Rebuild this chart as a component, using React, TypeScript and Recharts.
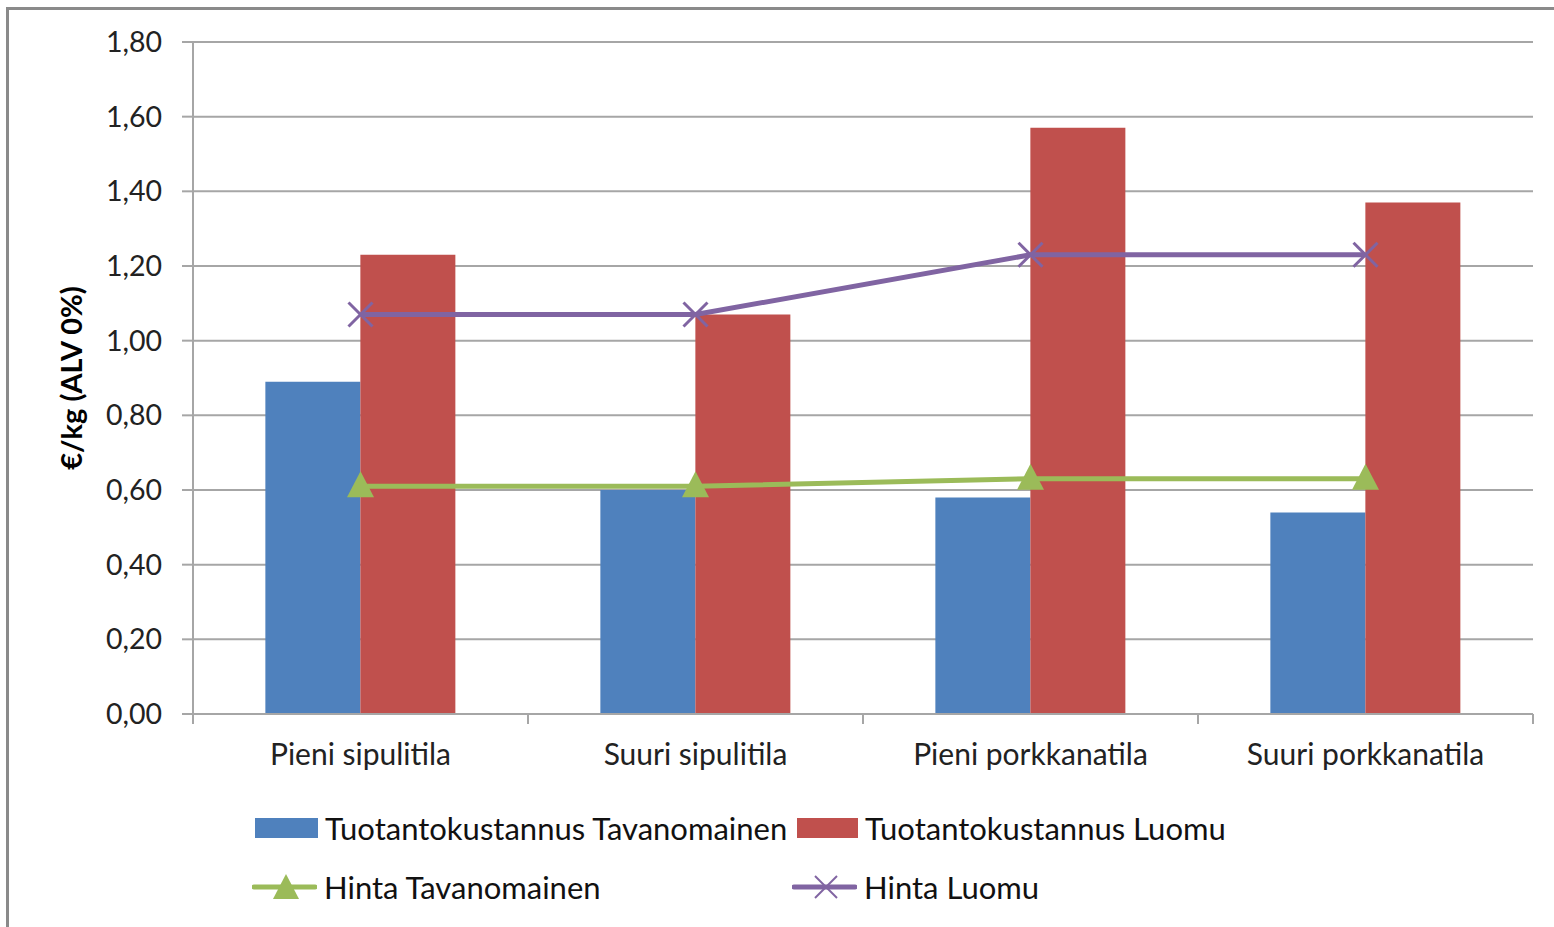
import React from 'react';
import {
  ComposedChart,
  Bar,
  Line,
  XAxis,
  YAxis,
  CartesianGrid,
  Legend,
} from 'recharts';

const categories = ['Pieni sipulitila', 'Suuri sipulitila', 'Pieni porkkanatila', 'Suuri porkkanatila'];
const kustannusTavanomainen = [0.89, 0.6, 0.58, 0.54];
const kustannusLuomu = [1.23, 1.07, 1.57, 1.37];
const hintaTavanomainen = [0.61, 0.61, 0.63, 0.63];
const hintaLuomu = [1.07, 1.07, 1.23, 1.23];
const yTicks = [0, 0.2, 0.4, 0.6, 0.8, 1.0, 1.2, 1.4, 1.6, 1.8];

const FONT = 'Lato, "Open Sans", sans-serif';
const BLUE = '#4F81BD';
const RED = '#C0504D';
const GREEN = '#9BBB59';
const PURPLE = '#8064A2';
const GRID = '#A6A6A6';

const data = categories.map((name, i) => ({
  name,
  kt: kustannusTavanomainen[i],
  kl: kustannusLuomu[i],
  ht: hintaTavanomainen[i],
  hl: hintaLuomu[i],
}));

const fmt = (v: number) => v.toFixed(2).replace('.', ',');

function TriangleDot(props: any) {
  const { cx, cy } = props;
  if (cx == null || cy == null) return null;
  return (
    <polygon
      points={`${cx},${cy - 15} ${cx - 13.5},${cy + 11} ${cx + 13.5},${cy + 11}`}
      fill={GREEN}
    />
  );
}

function CrossDot(props: any) {
  const { cx, cy } = props;
  if (cx == null || cy == null) return null;
  const r = 12;
  return (
    <g stroke={PURPLE} strokeWidth={3}>
      <line x1={cx - r} y1={cy - r} x2={cx + r} y2={cy + r} />
      <line x1={cx - r} y1={cy + r} x2={cx + r} y2={cy - r} />
    </g>
  );
}

function CategoryTick(props: any) {
  const { x, y, payload, index, visibleTicksCount } = props;
  const half = payload?.offset ?? 167.5;
  const top = y - 8;
  return (
    <g>
      <line x1={x - half} y1={top} x2={x - half} y2={top + 10} stroke={GRID} strokeWidth={2} />
      {index === visibleTicksCount - 1 && (
        <line x1={x + half} y1={top} x2={x + half} y2={top + 10} stroke={GRID} strokeWidth={2} />
      )}
      <text
        x={x}
        y={top + 51}
        textAnchor="middle"
        fill="#222"
        fontSize={30}
        fontFamily={FONT}
      >
        {payload.value}
      </text>
    </g>
  );
}

function ChartLegend() {
  const text = { fontSize: 31, color: '#111', fontFamily: FONT, marginLeft: 7, whiteSpace: 'nowrap' } as const;
  const item = { display: 'flex', alignItems: 'center', width: 542, height: 40 } as const;
  return (
    <div style={{ display: 'flex', flexWrap: 'wrap', width: 1090 }}>
      <div style={item}>
        <div style={{ width: 63, height: 20, background: BLUE, flexShrink: 0 }} />
        <span style={text}>Tuotantokustannus Tavanomainen</span>
      </div>
      <div style={item}>
        <div style={{ width: 61, height: 20, background: RED, flexShrink: 0 }} />
        <span style={text}>Tuotantokustannus Luomu</span>
      </div>
      <div style={{ ...item, marginTop: 19 }}>
        <svg width={65} height={30} style={{ flexShrink: 0, marginLeft: -3 }}>
          <line x1={2} y1={15} x2={63} y2={15} stroke={GREEN} strokeWidth={5} strokeLinecap="round" />
          <polygon points="34,2 21,27 47,27" fill={GREEN} />
        </svg>
        <span style={text}>Hinta Tavanomainen</span>
      </div>
      <div style={{ ...item, marginTop: 19 }}>
        <svg width={65} height={30} style={{ flexShrink: 0, marginLeft: -5 }}>
          <line x1={2} y1={15} x2={63} y2={15} stroke={PURPLE} strokeWidth={5} strokeLinecap="round" />
          <g stroke={PURPLE} strokeWidth={2}>
            <line x1={23} y1={4} x2={45} y2={26} />
            <line x1={23} y1={26} x2={45} y2={4} />
          </g>
        </svg>
        <span style={text}>Hinta Luomu</span>
      </div>
    </div>
  );
}

export default function App() {
  return (
    <div
      style={{
        position: 'absolute',
        left: 0,
        top: 0,
        width: 1554,
        height: 927,
        background: '#fff',
        overflow: 'hidden',
      }}
    >
      <div
        style={{
          position: 'absolute',
          left: 6,
          top: 7,
          width: 1600,
          height: 1000,
          borderLeft: '3px solid #8a8a8a',
          borderTop: '3px solid #8a8a8a',
        }}
      />
      <div style={{ position: 'absolute', left: 0, top: 0 }}>
        <ComposedChart
          width={1554}
          height={927}
          data={data}
          margin={{ top: 42, right: 21, bottom: 153, left: 0 }}
          barCategoryGap="21.6%"
          barGap={0}
        >
          <CartesianGrid vertical={false} stroke={GRID} strokeWidth={2} />
          <XAxis
            dataKey="name"
            height={60}
            axisLine={{ stroke: GRID, strokeWidth: 2 }}
            tickLine={false}
            interval={0}
            tick={<CategoryTick />}
          />
          <YAxis
            width={193}
            domain={[0, 1.8]}
            ticks={yTicks}
            tickFormatter={fmt}
            axisLine={{ stroke: GRID, strokeWidth: 2 }}
            tickLine={{ stroke: GRID, strokeWidth: 2 }}
            tickSize={11}
            tickMargin={20}
            tick={{ fontSize: 28.5, fill: '#222', fontFamily: FONT }}
            label={{
              value: '€/kg (ALV 0%)',
              angle: -90,
              position: 'insideLeft',
              offset: 72,
              style: { fontSize: 29, fontWeight: 'bold', fill: '#000', fontFamily: FONT, textAnchor: 'middle' },
            }}
          />
          <Bar dataKey="kt" name="Tuotantokustannus Tavanomainen" fill={BLUE} isAnimationActive={false} />
          <Bar dataKey="kl" name="Tuotantokustannus Luomu" fill={RED} isAnimationActive={false} />
          <Line
            type="linear"
            dataKey="ht"
            name="Hinta Tavanomainen"
            stroke={GREEN}
            strokeWidth={5}
            dot={<TriangleDot />}
            activeDot={false}
            isAnimationActive={false}
          />
          <Line
            type="linear"
            dataKey="hl"
            name="Hinta Luomu"
            stroke={PURPLE}
            strokeWidth={5}
            dot={<CrossDot />}
            activeDot={false}
            isAnimationActive={false}
          />
          <Legend
            layout="horizontal"
            verticalAlign="middle"
            align="center"
            content={() => <ChartLegend />}
            wrapperStyle={{ top: 808, left: 255, width: 1090 }}
          />
        </ComposedChart>
      </div>
    </div>
  );
}
